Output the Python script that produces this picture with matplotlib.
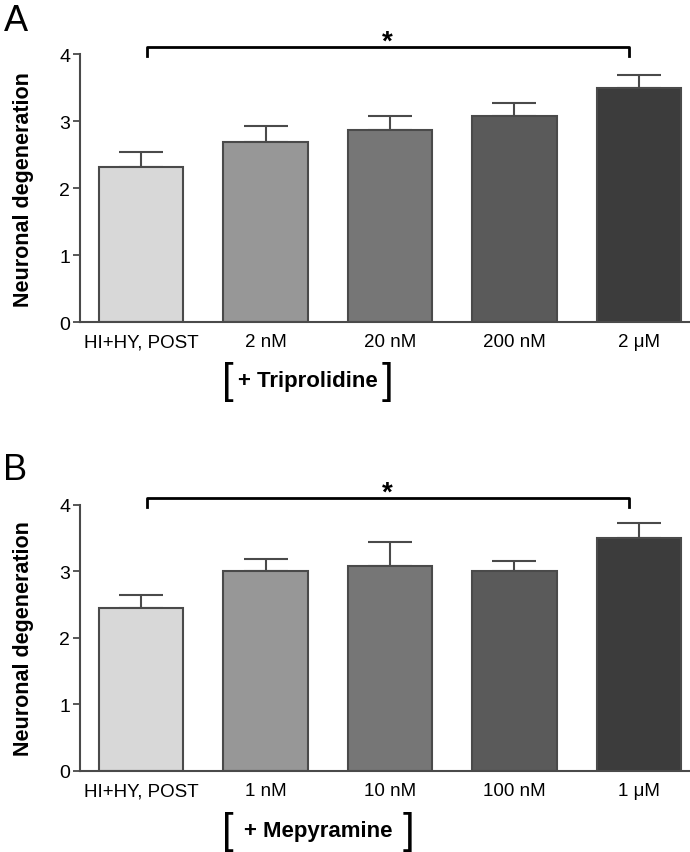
import matplotlib
matplotlib.use("Agg")
from matplotlib import pyplot as plt
import numpy as np

plt.rcParams['font.family'] = ['Liberation Sans', 'DejaVu Sans']

# panel A: triprolidine
labels_a = ["HI+HY, POST", "2 nM", "20 nM", "200 nM", "2 \u03bcM"]
means_a = [2.31, 2.69, 2.86, 3.07, 3.50]
sem_a = [0.23, 0.23, 0.21, 0.20, 0.19]

# panel B: mepyramine
labels_b = ["HI+HY, POST", "1 nM", "10 nM", "100 nM", "1 \u03bcM"]
means_b = [2.45, 3.00, 3.08, 3.00, 3.50]
sem_b = [0.20, 0.18, 0.36, 0.16, 0.23]

bar_colors = ["#d8d8d8", "#979797", "#767676", "#5a5a5a", "#3c3c3c"]
edge = "#4a4a4a"

fig = plt.figure(figsize=(6.9, 8.53), dpi=100)
ax_a = fig.add_axes([0.116, 0.621, 0.884, 0.3145])
ax_b = fig.add_axes([0.116, 0.095, 0.884, 0.312])


def draw_panel(ax, labels, means, sem, drug, right_br, ytxt):
    x = np.arange(len(labels))
    ax.bar(x, means, width=0.68, color=bar_colors, edgecolor=edge, linewidth=1.5, zorder=2)
    ax.errorbar(x, means, yerr=[np.zeros(len(sem)), sem], fmt='none', ecolor=edge,
                elinewidth=1.5, capsize=16, capthick=1.5, zorder=1)
    ax.set_xlim(-0.49, 4.41)
    ax.set_ylim(0, 4)
    ax.set_yticks([0, 1, 2, 3, 4])
    ax.set_xticks(x)
    ax.set_xticklabels(labels, fontsize=13.5)
    ax.tick_params(axis='x', length=0, pad=8)
    ax.tick_params(axis='y', labelsize=14, length=5, width=1.3, color=edge, pad=2)
    for s in ["top", "right"]:
        ax.spines[s].set_visible(False)
    for s in ["left", "bottom"]:
        ax.spines[s].set_color(edge)
        ax.spines[s].set_linewidth(1.5)
    ax.set_ylabel("Neuronal degeneration", fontsize=15.5, fontweight='bold', labelpad=18)
    # significance bracket
    ax.plot([0.05, 0.05, 3.92, 3.92], [3.97, 4.1, 4.1, 3.97], color='black', lw=2, clip_on=False)
    ax.text(1.98, 3.99, "*", ha='center', va='bottom', fontsize=20, fontweight='bold')
    # drug label under the axis
    left_br = 0.70
    mid = (left_br + right_br) / 2
    ax.text(mid, ytxt, "+ " + drug, ha='center', va='center', fontsize=16,
            fontweight='heavy', clip_on=False)
    ax.text(left_br, ytxt, "[", ha='center', va='center', fontsize=30, fontweight='light',
            clip_on=False)
    ax.text(right_br, ytxt, "]", ha='center', va='center', fontsize=30, fontweight='light',
            clip_on=False)


draw_panel(ax_a, labels_a, means_a, sem_a, "Triprolidine", 1.98, -0.87)
draw_panel(ax_b, labels_b, means_b, sem_b, "Mepyramine", 2.15, -0.90)

fig.text(0.005, 0.975, "A", fontsize=26, va='center', ha='left')
fig.text(0.005, 0.448, "B", fontsize=26, va='center', ha='left')

fig.savefig("out.png", dpi=100)
